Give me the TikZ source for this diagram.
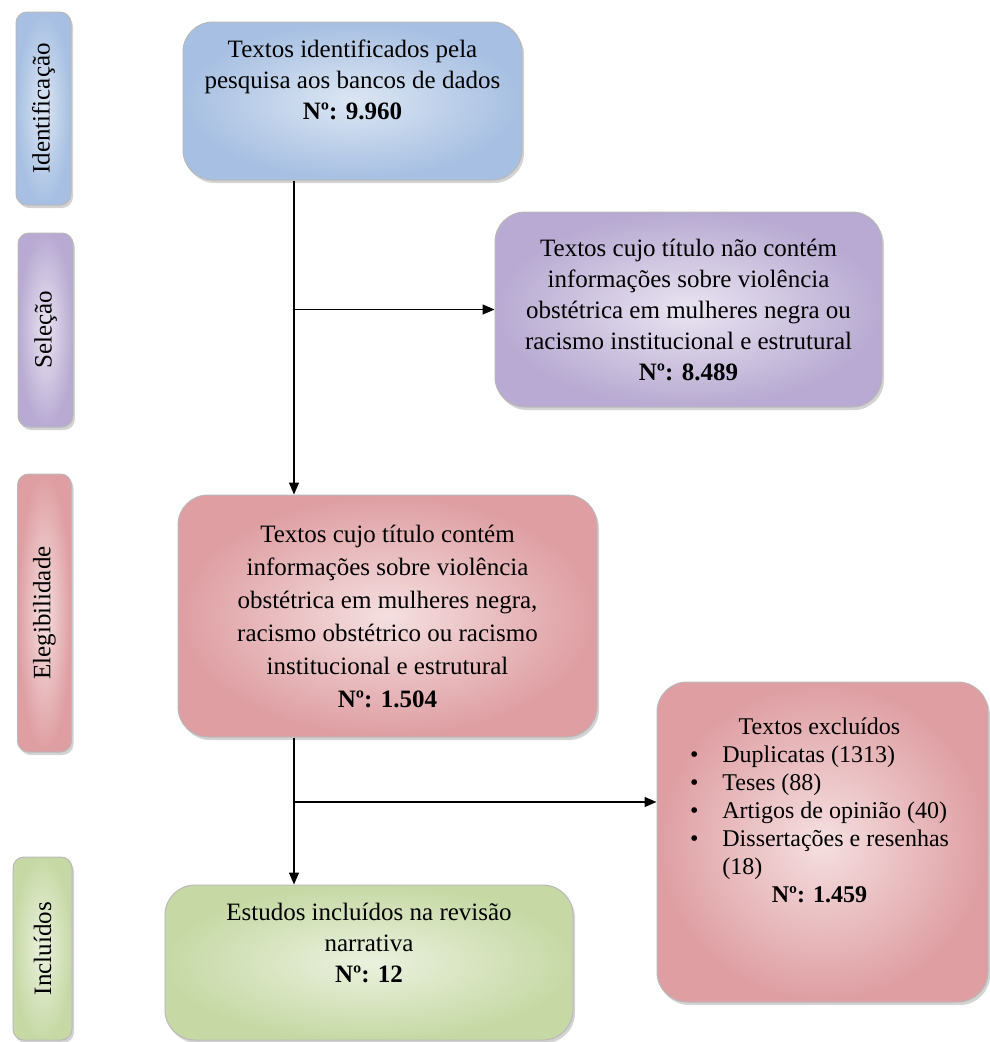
\documentclass[tikz,border=0pt]{standalone}
\usepackage{fontspec}
\setmainfont{Liberation Serif}
\usetikzlibrary{arrows.meta,shadows}
\definecolor{idblue}{HTML}{A6BFE2}
\definecolor{idbluelight}{HTML}{DCE6F3}
\definecolor{selpurple}{HTML}{B8AAD2}
\definecolor{selpurplelight}{HTML}{E9E4F1}
\definecolor{elegred}{HTML}{DE9EA2}
\definecolor{elegredlight}{HTML}{F5DFE0}
\definecolor{inclgreen}{HTML}{C6D9A5}
\definecolor{inclgreenlight}{HTML}{EBF1DE}

\begin{document}
\begin{tikzpicture}[
  x=1pt, y=-1pt, line width=1.5pt,
  font=\fontsize{25}{31}\selectfont,
  flowbox/.style={
    rounded corners=30pt,
    draw=gray!55,
    line width=1pt,
    align=center,
    inner sep=6pt,
    drop shadow={shadow xshift=2pt, shadow yshift=-3pt, opacity=0.35}
  },
  stagebox/.style={
    rounded corners=11pt,
    draw=gray!55,
    line width=1pt,
    rotate=90,
    inner sep=2pt,
    drop shadow={shadow xshift=2pt, shadow yshift=-3pt, opacity=0.35}
  },
  flow/.style={-{Triangle[length=12pt,width=10pt]}}
]
  \useasboundingbox (0,0) rectangle (990,1042);

  \node[stagebox, inner color=idbluelight, outer color=idblue,
    minimum width=193pt, minimum height=55pt] (stid) at (43.5,108.5) {Identificação};
  \node[stagebox, inner color=selpurplelight, outer color=selpurple,
    minimum width=194pt, minimum height=55pt] (stsel) at (45.5,330) {Seleção};
  \node[stagebox, inner color=elegredlight, outer color=elegred,
    minimum width=278pt, minimum height=54pt] (steleg) at (44.5,613) {Elegibilidade};
  \node[stagebox, inner color=inclgreenlight, outer color=inclgreen,
    minimum width=183pt, minimum height=59pt] (stincl) at (42.5,948.5) {Incluídos};

  \node[flowbox, inner color=idbluelight, outer color=idblue,
    minimum width=339pt, minimum height=158pt] (found) at (352.5,101) {
    Textos identificados pela\\
    pesquisa aos bancos de dados\\
    \textbf{Nº: 9.960}\\[12pt]
  };
  \node[flowbox, inner color=selpurplelight, outer color=selpurple,
    minimum width=387pt, minimum height=195pt] (notitle) at (688.5,309.5) {
    Textos cujo título não contém\\
    informações sobre violência\\
    obstétrica em mulheres negra ou\\
    racismo institucional e estrutural\\
    \textbf{Nº: 8.489}
  };
  \node[flowbox, inner color=elegredlight, outer color=elegred,
    minimum width=419pt, minimum height=242pt,
    font=\fontsize{25}{33}\selectfont] (title) at (387.5,616) {
    Textos cujo título contém\\
    informações sobre violência\\
    obstétrica em mulheres negra,\\
    racismo obstétrico ou racismo\\
    institucional e estrutural\\
    \textbf{Nº: 1.504}
  };
  \node[flowbox, inner color=elegredlight, outer color=elegred,
    minimum width=331pt, minimum height=320pt, inner sep=0pt,
    font=\fontsize{24}{28}\selectfont] (excl) at (822.5,842) {
    \begin{tabular}{@{}c@{}}
      Textos excluídos\\
      \begin{tabular}{@{}l@{\hspace{24pt}}l@{}}
        \textbullet & Duplicatas (1313)\\
        \textbullet & Teses (88)\\
        \textbullet & Artigos de opinião (40)\\
        \textbullet & Dissertações e resenhas\\
                    & (18)\\
      \end{tabular}\\
      \textbf{Nº: 1.459}\\[58pt]
    \end{tabular}
  };
  \node[flowbox, inner color=inclgreenlight, outer color=inclgreen,
    minimum width=408pt, minimum height=155pt] (incl) at (369,962.5) {
    Estudos incluídos na revisão\\
    narrativa\\
    \textbf{Nº: 12}\\[8pt]
  };

  \coordinate (trunk) at (294,0);
  \coordinate (fork) at (294,802);
  \draw[flow] (found.south -| trunk) -- (title.north -| trunk);
  \draw[flow] (trunk |- notitle.west) -- (notitle.west);
  \draw[flow] (title.south -| trunk) -- (incl.north -| trunk);
  \draw[flow] (fork) -- (fork -| excl.west);
\end{tikzpicture}
\end{document}
